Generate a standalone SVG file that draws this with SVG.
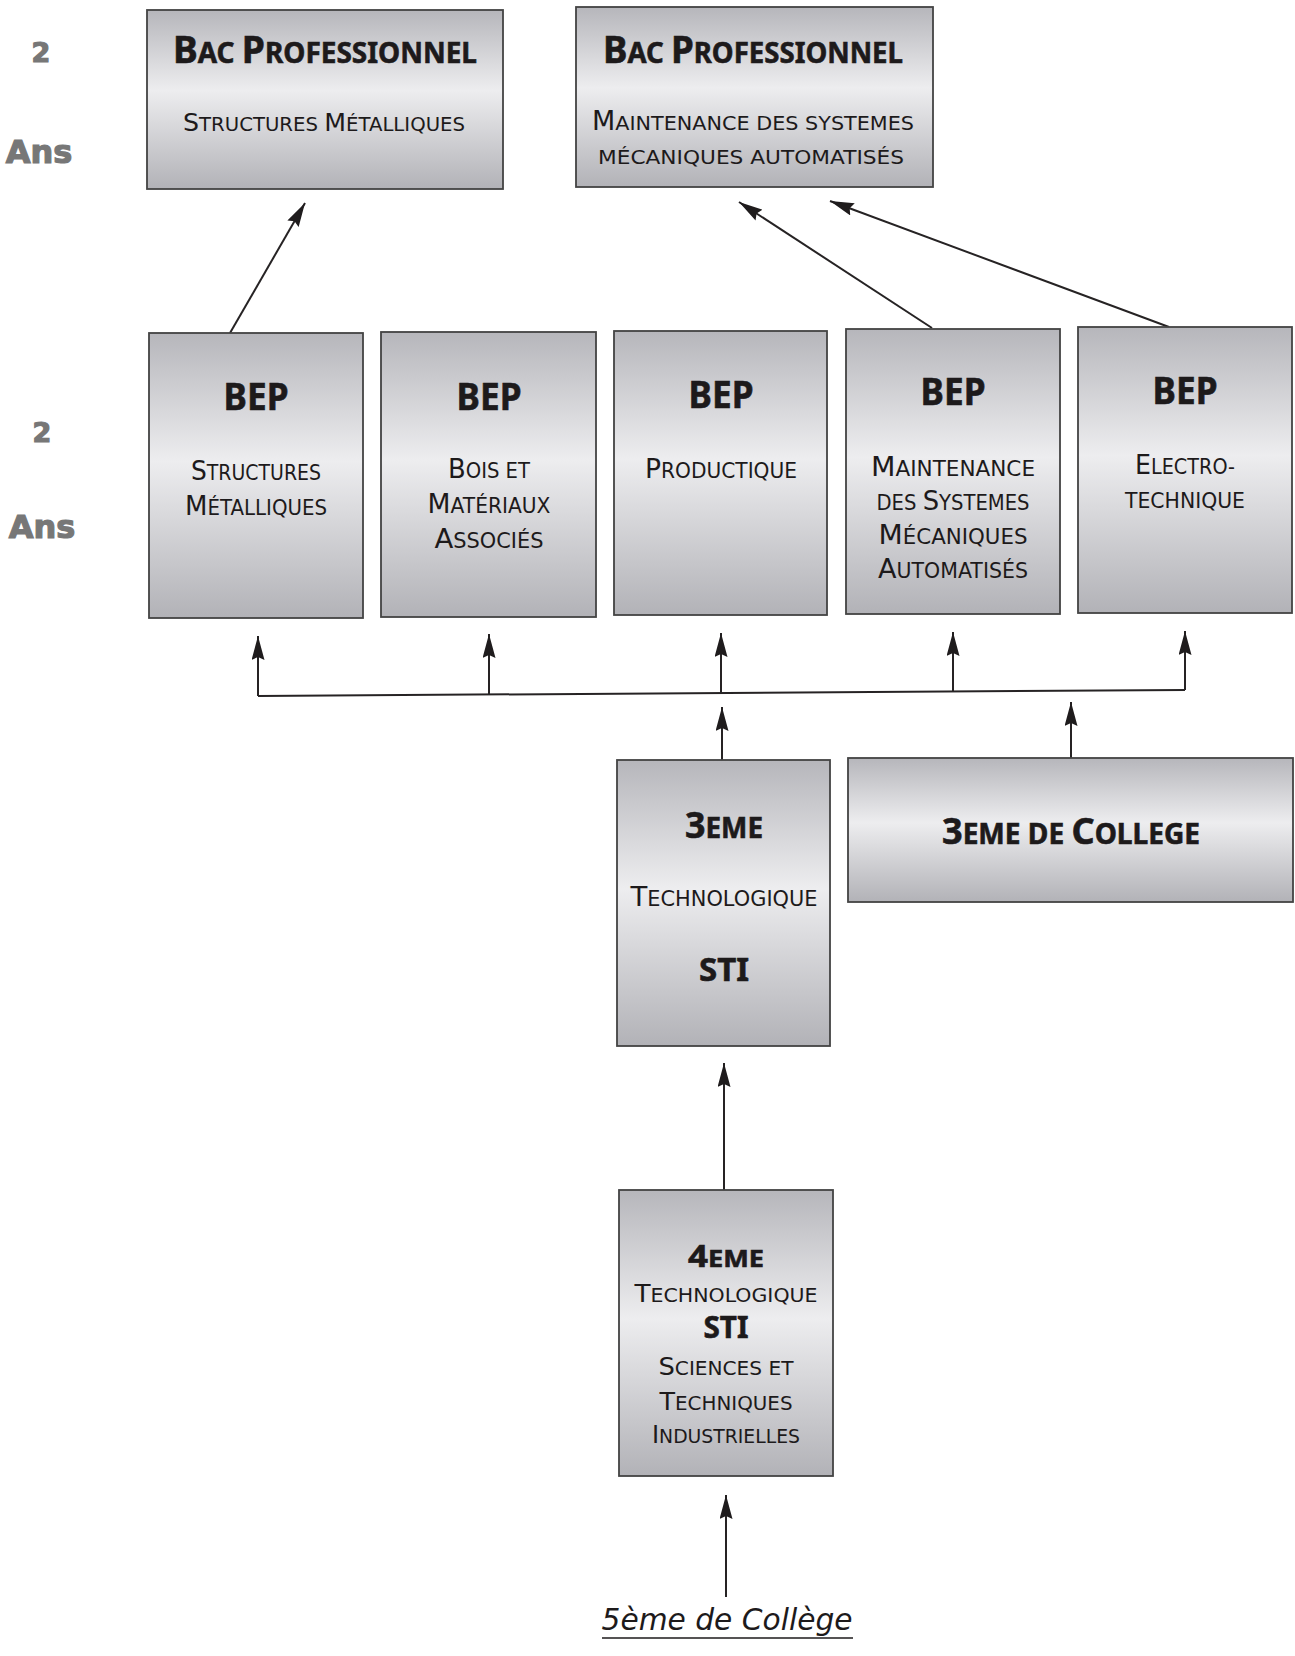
<svg xmlns="http://www.w3.org/2000/svg" width="1295" height="1656" viewBox="0 0 1295 1656">
<defs>
<linearGradient id="boxfill" x1="0" y1="0" x2="0" y2="1">
<stop offset="0" stop-color="#b6b6bb"/>
<stop offset="0.45" stop-color="#ededef"/>
<stop offset="1" stop-color="#b2b2b7"/>
</linearGradient>
<marker id="arr" markerUnits="userSpaceOnUse" markerWidth="24" markerHeight="13" refX="24" refY="6.5" orient="auto" viewBox="0 0 24 13">
<path d="M0,0 L24,6.5 L0,13 L3,6.5 z" fill="#1f1c1d"/>
</marker>
<style>
.box{fill:url(#boxfill);stroke:#434343;stroke-width:1.8}
.t{font-family:"Noto Sans","DejaVu Sans",sans-serif;font-weight:700;fill:#1d1a1b;stroke:#1d1a1b;stroke-width:0.6;text-anchor:middle}
.s{font-family:"DejaVu Sans","Noto Sans",sans-serif;fill:#1d1a1b;text-anchor:middle}
.lbl{font-family:"DejaVu Sans",sans-serif;font-weight:700;fill:#777777;stroke:#777777;stroke-width:1.2;text-anchor:middle}
.c line,.c path{stroke:#262324;stroke-width:2;fill:none}
.c .a{marker-end:url(#arr)}
</style>
</defs>
<rect width="1295" height="1656" fill="#ffffff"/>

<g id="labels">
<text class="lbl" x="41" y="62" font-size="27">2</text>
<text class="lbl" x="39" y="163" font-size="32">Ans</text>
<text class="lbl" x="42" y="442" font-size="27">2</text>
<text class="lbl" x="42" y="538" font-size="32">Ans</text>
</g>

<g id="connectors" class="c">
<line class="a" x1="230" y1="333" x2="305" y2="203"/>
<line class="a" x1="932" y1="328" x2="739" y2="202"/>
<line class="a" x1="1169" y1="327" x2="830" y2="201"/>
<path d="M258,696 L1185,690"/>
<line class="a" x1="258" y1="696" x2="258" y2="636"/>
<line class="a" x1="489" y1="695" x2="489" y2="634"/>
<line class="a" x1="721" y1="694" x2="721" y2="633"/>
<line class="a" x1="953" y1="692" x2="953" y2="632"/>
<line class="a" x1="1185" y1="690" x2="1185" y2="631"/>
<line class="a" x1="722" y1="760" x2="722" y2="707"/>
<line class="a" x1="1071" y1="758" x2="1071" y2="702"/>
<line class="a" x1="724" y1="1190" x2="724" y2="1063"/>
<line class="a" x1="726" y1="1597" x2="726" y2="1495"/>
</g>

<g id="bac-structures">
<rect class="box" x="147" y="10" width="356" height="179"/>
<text class="t" x="325" y="63" font-size="38" textLength="304" lengthAdjust="spacingAndGlyphs">B<tspan font-size="28.5">AC </tspan>P<tspan font-size="28.5">ROFESSIONNEL</tspan></text>
<text class="s" x="324" y="131" font-size="25" textLength="282" lengthAdjust="spacingAndGlyphs">S<tspan font-size="19.5">TRUCTURES </tspan>M<tspan font-size="19.5">ÉTALLIQUES</tspan></text>
</g>

<g id="bac-maintenance">
<rect class="box" x="576" y="7" width="357" height="180"/>
<text class="t" x="753" y="63" font-size="38" textLength="300" lengthAdjust="spacingAndGlyphs">B<tspan font-size="28.5">AC </tspan>P<tspan font-size="28.5">ROFESSIONNEL</tspan></text>
<text class="s" x="753" y="130" font-size="26" textLength="322" lengthAdjust="spacingAndGlyphs">M<tspan font-size="20">AINTENANCE DES SYSTEMES</tspan></text>
<text class="s" x="751" y="164" font-size="20" textLength="306" lengthAdjust="spacingAndGlyphs">MÉCANIQUES AUTOMATISÉS</text>
</g>

<g id="bep-structures">
<rect class="box" x="149" y="333" width="214" height="285"/>
<text class="t" x="256" y="410" font-size="37" textLength="65" lengthAdjust="spacingAndGlyphs">BEP</text>
<text class="s" x="256" y="480" font-size="27" textLength="130" lengthAdjust="spacingAndGlyphs">S<tspan font-size="20.5">TRUCTURES</tspan></text>
<text class="s" x="256" y="515" font-size="27" textLength="142" lengthAdjust="spacingAndGlyphs">M<tspan font-size="20.5">ÉTALLIQUES</tspan></text>
</g>

<g id="bep-bois">
<rect class="box" x="381" y="332" width="215" height="285"/>
<text class="t" x="489" y="410" font-size="37" textLength="65" lengthAdjust="spacingAndGlyphs">BEP</text>
<text class="s" x="489" y="478" font-size="27" textLength="82" lengthAdjust="spacingAndGlyphs">B<tspan font-size="20.5">OIS ET</tspan></text>
<text class="s" x="489" y="513" font-size="27" textLength="123" lengthAdjust="spacingAndGlyphs">M<tspan font-size="20.5">ATÉRIAUX</tspan></text>
<text class="s" x="489" y="548" font-size="27" textLength="109" lengthAdjust="spacingAndGlyphs">A<tspan font-size="20.5">SSOCIÉS</tspan></text>
</g>

<g id="bep-productique">
<rect class="box" x="614" y="331" width="213" height="284"/>
<text class="t" x="721" y="408" font-size="37" textLength="65" lengthAdjust="spacingAndGlyphs">BEP</text>
<text class="s" x="721" y="478" font-size="27" textLength="152" lengthAdjust="spacingAndGlyphs">P<tspan font-size="20.5">RODUCTIQUE</tspan></text>
</g>

<g id="bep-maintenance">
<rect class="box" x="846" y="329" width="214" height="285"/>
<text class="t" x="953" y="405" font-size="37" textLength="65" lengthAdjust="spacingAndGlyphs">BEP</text>
<text class="s" x="953" y="476" font-size="27" textLength="164" lengthAdjust="spacingAndGlyphs">M<tspan font-size="20.5">AINTENANCE</tspan></text>
<text class="s" x="953" y="510" font-size="27" textLength="153" lengthAdjust="spacingAndGlyphs"><tspan font-size="20.5">DES </tspan>S<tspan font-size="20.5">YSTEMES</tspan></text>
<text class="s" x="953" y="544" font-size="27" textLength="149" lengthAdjust="spacingAndGlyphs">M<tspan font-size="20.5">ÉCANIQUES</tspan></text>
<text class="s" x="953" y="578" font-size="27" textLength="150" lengthAdjust="spacingAndGlyphs">A<tspan font-size="20.5">UTOMATISÉS</tspan></text>
</g>

<g id="bep-electrotechnique">
<rect class="box" x="1078" y="327" width="214" height="286"/>
<text class="t" x="1185" y="404" font-size="37" textLength="65" lengthAdjust="spacingAndGlyphs">BEP</text>
<text class="s" x="1185" y="474" font-size="27" textLength="100" lengthAdjust="spacingAndGlyphs">E<tspan font-size="20.5">LECTRO-</tspan></text>
<text class="s" x="1185" y="508" font-size="20.5" textLength="120" lengthAdjust="spacingAndGlyphs">TECHNIQUE</text>
</g>

<g id="troisieme-techno">
<rect class="box" x="617" y="760" width="213" height="286"/>
<text class="t" x="724" y="838" font-size="36" textLength="78" lengthAdjust="spacingAndGlyphs">3<tspan font-size="28">EME</tspan></text>
<text class="s" x="724" y="906" font-size="27" textLength="187" lengthAdjust="spacingAndGlyphs">T<tspan font-size="20.5">ECHNOLOGIQUE</tspan></text>
<text class="t" x="724" y="981" font-size="33" textLength="50" lengthAdjust="spacingAndGlyphs">STI</text>
</g>

<g id="troisieme-college">
<rect class="box" x="848" y="758" width="445" height="144"/>
<text class="t" x="1071" y="844" font-size="36" textLength="258" lengthAdjust="spacingAndGlyphs">3<tspan font-size="28">EME DE </tspan>C<tspan font-size="28">OLLEGE</tspan></text>
</g>

<g id="quatrieme-techno">
<rect class="box" x="619" y="1190" width="214" height="286"/>
<text class="t" x="726" y="1267" font-size="31" textLength="76" lengthAdjust="spacingAndGlyphs">4<tspan font-size="24">EME</tspan></text>
<text class="s" x="726" y="1302" font-size="25" textLength="183" lengthAdjust="spacingAndGlyphs">T<tspan font-size="19.5">ECHNOLOGIQUE</tspan></text>
<text class="t" x="726" y="1338" font-size="30" textLength="45" lengthAdjust="spacingAndGlyphs">STI</text>
<text class="s" x="726" y="1375" font-size="25" textLength="135" lengthAdjust="spacingAndGlyphs">S<tspan font-size="19.5">CIENCES ET</tspan></text>
<text class="s" x="726" y="1410" font-size="25" textLength="133" lengthAdjust="spacingAndGlyphs">T<tspan font-size="19.5">ECHNIQUES</tspan></text>
<text class="s" x="726" y="1443" font-size="25" textLength="148" lengthAdjust="spacingAndGlyphs">I<tspan font-size="19.5">NDUSTRIELLES</tspan></text>
</g>

<g id="cinquieme-college">
<text class="s" x="727" y="1630" font-size="30" font-style="italic" textLength="251" lengthAdjust="spacingAndGlyphs">5ème de Collège</text>
<line x1="602" y1="1638" x2="853" y2="1638" stroke="#1d1a1b" stroke-width="1.6"/>
</g>
</svg>
